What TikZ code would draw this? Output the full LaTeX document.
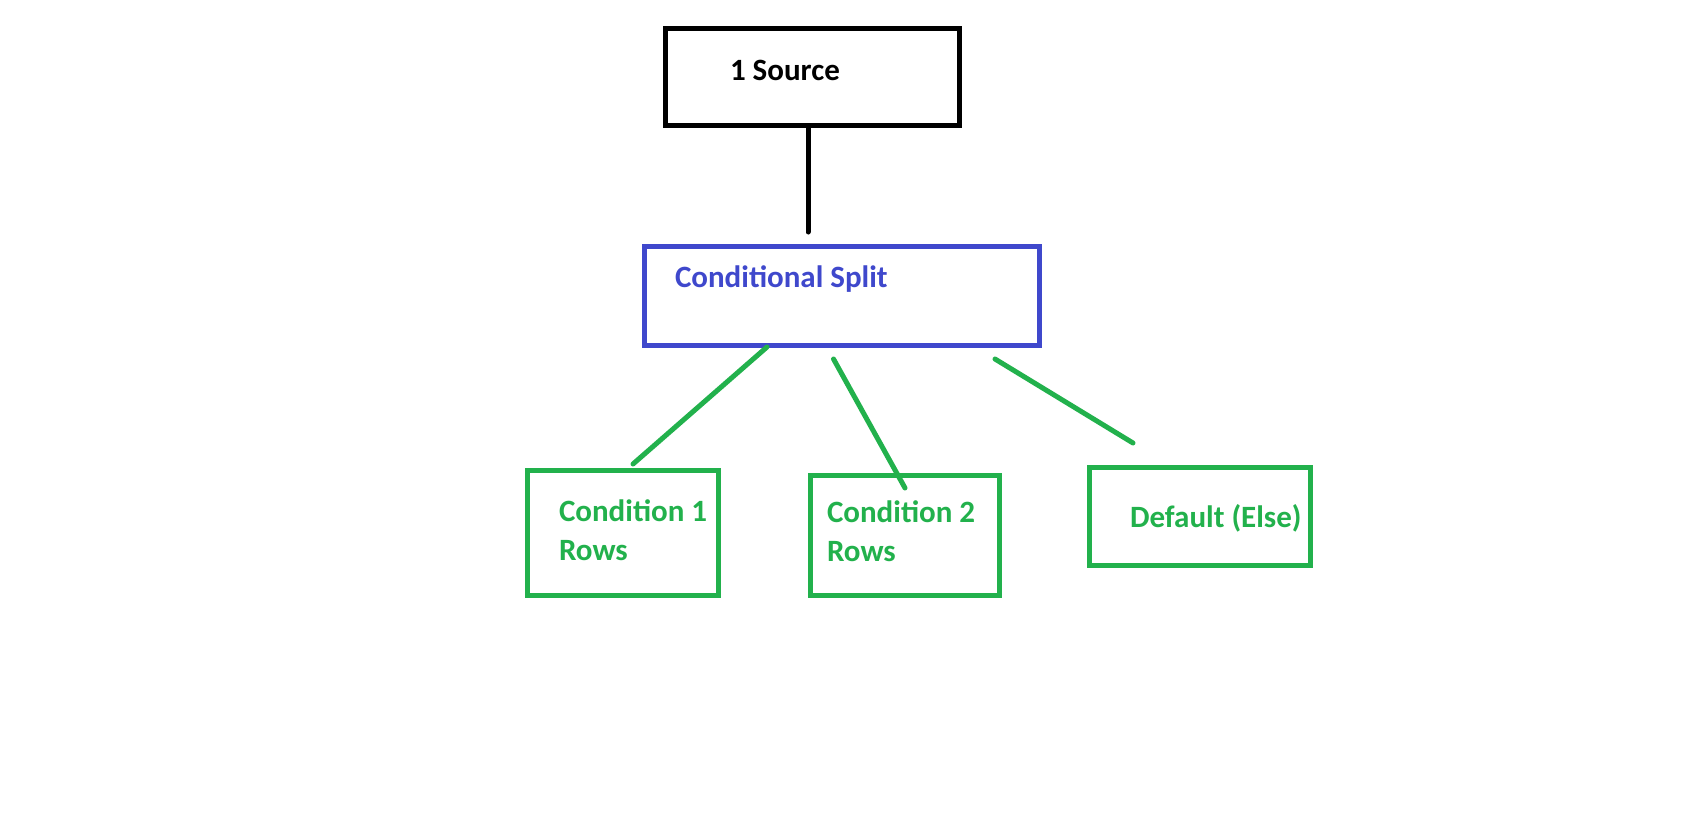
\documentclass[tikz,border=0pt]{standalone}
\usepackage{fontspec}
\setmainfont{Carlito}
\usetikzlibrary{calc}
\definecolor{pblue}{RGB}{63,72,204}
\definecolor{pgreen}{RGB}{34,177,76}
\begin{document}
\begin{tikzpicture}[x=1pt,y=-1pt,
  box/.style={draw,line width=5.5pt,minimum width=#1,inner sep=0pt,outer sep=0pt},
  lbl/.style={anchor=base west,inner sep=0pt,outer sep=0pt,align=left,
    font=\fontsize{31}{38.5}\selectfont\bfseries},
  link/.style={line width=5pt,line cap=round}]
\useasboundingbox[fill=white] (0,0) rectangle (1702,827);
% boxes
\node[box=294pt,minimum height=97pt] (src) at (812.5,77) {};
\node[box=395pt,minimum height=99pt,draw=pblue] (split) at (842,296) {};
\node[box=191pt,minimum height=125pt,draw=pgreen] (c1) at (623,533) {};
\node[box=189pt,minimum height=120pt,draw=pgreen] (c2) at (905,535.5) {};
\node[box=221pt,minimum height=98pt,draw=pgreen] (def) at (1200,516.5) {};
% labels (base = last line)
\node[lbl] (tsrc) at (730,80) {1 Source};
\node[lbl,text=pblue] (tsplit) at (675,287) {Conditional Split};
\node[lbl,text=pgreen] (tc1) at (559,560) {Condition 1\\Rows};
\node[lbl,text=pgreen] (tc2) at (827,561) {Condition 2\\Rows};
\node[lbl,text=pgreen] (tdef) at (1130,527) {Default (Else)};
% connector ends
\coordinate (s0) at (808,128);
\coordinate (s1) at (808,232);
\coordinate (a0) at (767,347);
\coordinate (a1) at (633,464);
\coordinate (b0) at (833.5,359);
\coordinate (b1) at (905,488);
\coordinate (d0) at (995,359);
\coordinate (d1) at (1133,443);
% connectors
\draw[link] (s0) -- (s1);
\draw[link,pgreen] (a0) -- (a1);
\draw[link,pgreen] (b0) -- (b1);
\draw[link,pgreen] (d0) -- (d1);
\end{tikzpicture}
\end{document}
